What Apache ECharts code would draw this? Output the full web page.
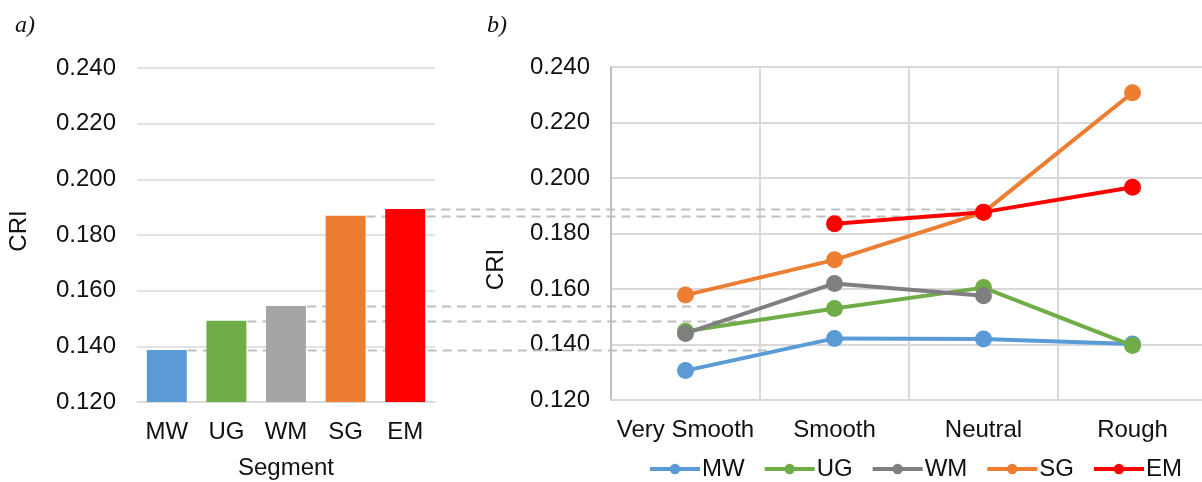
<!DOCTYPE html>
<html>
<head>
<meta charset="utf-8">
<script src="https://cdn.jsdelivr.net/npm/echarts@6/dist/echarts.min.js"></script>
<style>
html,body{margin:0;padding:0;background:#fff;}
#c{width:1202px;height:482px;}
</style>
</head>
<body>
<div id="c"></div>
<script>
// ---- data ----
const segments = ['MW', 'UG', 'WM', 'SG', 'EM'];
const segmentCRI = [0.1387, 0.1492, 0.1545, 0.1869, 0.1893];
const roughness = ['Very Smooth', 'Smooth', 'Neutral', 'Rough'];
const mwCRI = [0.1306, 0.1422, 0.1420, 0.1402];
const ugCRI = [0.1448, 0.1530, 0.1605, 0.1396];
const wmCRI = [0.1440, 0.1620, 0.1576, null];
const sgCRI = [0.1578, 0.1705, 0.1876, 0.2307];
const emCRI = [null, 0.1835, 0.1877, 0.1967];
const yMin = 0.12, yMax = 0.24, yStep = 0.02;
// where each guide line ends on panel b (category index units)
const guideEnds = [0.56, 0.37, 0.43, 1.96, 1.96];

// ---- style ----
const barColors = ['#5b9bd5', '#70ad47', '#a5a5a5', '#ed7d31', '#ff0000'];
const lineColors = {MW: '#5b9bd5', UG: '#70ad47', WM: '#7f7f7f', SG: '#ed7d31', EM: '#ff0000'};
const FONT = 'Liberation Sans, Arial, sans-serif';
const txt = '#111';

const chart = echarts.init(document.getElementById('c'), null, {renderer: 'canvas'});

function yAxisCfg(gridIndex, gap, pad) {
  return {
    type: 'value', gridIndex: gridIndex, min: yMin, max: yMax, interval: yStep,
    name: 'CRI', nameLocation: 'middle', nameGap: gap, nameRotate: 90,
    nameTextStyle: {fontSize: 24, color: txt, fontFamily: FONT, padding: pad},
    axisLabel: {fontSize: 24, color: txt, fontFamily: FONT, margin: 21,
      formatter: v => v.toFixed(3)},
    axisLine: {show: gridIndex === 1, lineStyle: {color: '#bfbfbf', width: 2}},
    axisTick: {show: false},
    splitLine: {lineStyle: {color: '#d9d9d9', width: gridIndex === 1 ? 2 : 1.5}}
  };
}

const lineSeries = [['MW', mwCRI], ['UG', ugCRI], ['WM', wmCRI], ['SG', sgCRI], ['EM', emCRI]].map(([n, d]) => ({
  type: 'line', name: n, xAxisIndex: 1, yAxisIndex: 1, data: d,
  symbol: 'circle', symbolSize: 17,
  lineStyle: {width: 4, color: lineColors[n]},
  itemStyle: {color: lineColors[n]},
  connectNulls: false
}));

chart.setOption({
  animation: false,
  backgroundColor: '#fff',
  textStyle: {fontFamily: FONT},
  grid: [
    {left: 137, right: 767, top: 68, bottom: 80, outerBoundsMode: 'none', containLabel: false},
    {left: 611, right: -5, top: 67, bottom: 82, outerBoundsMode: 'none', containLabel: false}
  ],
  xAxis: [
    {type: 'category', gridIndex: 0, data: segments,
      name: 'Segment', nameLocation: 'middle', nameGap: 54,
      nameTextStyle: {fontSize: 24, color: txt, fontFamily: FONT},
      axisLabel: {fontSize: 24, color: txt, fontFamily: FONT, margin: 18},
      axisLine: {lineStyle: {color: '#d9d9d9', width: 1.5}},
      axisTick: {show: false}},
    {type: 'category', gridIndex: 1, data: roughness,
      axisLabel: {fontSize: 24, color: txt, fontFamily: FONT, margin: 18, interval: 0},
      axisLine: {lineStyle: {color: '#d9d9d9', width: 2}},
      axisTick: {show: false},
      splitLine: {show: true, interval: 0, lineStyle: {color: '#d9d9d9', width: 2}}}
  ],
  yAxis: [yAxisCfg(0, 106, [0, 0, 0, 8]), yAxisCfg(1, 103, [0, 72, 0, 0])],
  legend: {
    data: ['MW', 'UG', 'WM', 'SG', 'EM'],
    left: 643, top: 452, itemWidth: 50, itemHeight: 13, itemGap: 18,
    lineStyle: {width: 4},
    textStyle: {fontSize: 24, color: txt, fontFamily: FONT, padding: [0, 0, 0, -3]}
  },
  series: [
    {type: 'bar', name: 'Segment CRI', xAxisIndex: 0, yAxisIndex: 0, barCategoryGap: '33%',
      data: segmentCRI.map((v, i) => ({value: v, itemStyle: {color: barColors[i]}})), z: 3}
  ].concat(lineSeries)
});

// dashed guide lines from each bar top across to panel b
function drawGuides() {
  const bw = chart.getModel().getComponent('xAxis', 0).axis.getBandWidth() * 0.67;
  const p0 = chart.convertToPixel({xAxisIndex: 1}, 0);
  const p1 = chart.convertToPixel({xAxisIndex: 1}, 1);
  const els = segmentCRI.map((v, i) => {
    const y = Math.round(chart.convertToPixel({yAxisIndex: 0}, v)) + 0.5;
    const x1 = chart.convertToPixel({xAxisIndex: 0}, i) + bw / 2 + 1;
    const x2 = p0 + guideEnds[i] * (p1 - p0);
    return {type: 'line', z: 1, silent: true,
      shape: {x1: x1, y1: y, x2: x2, y2: y},
      style: {stroke: '#bfbfbf', lineWidth: 2, lineDash: [9, 6]}};
  });
  els.push({type: 'text', left: 15, top: 14, style: {text: 'a)', fontSize: 24, fontStyle: 'italic', fontFamily: 'Liberation Serif, Times New Roman, serif', fill: txt}});
  els.push({type: 'text', left: 487, top: 14, style: {text: 'b)', fontSize: 24, fontStyle: 'italic', fontFamily: 'Liberation Serif, Times New Roman, serif', fill: txt}});
  chart.setOption({graphic: {elements: els}});
}
drawGuides();
</script>
</body>
</html>
